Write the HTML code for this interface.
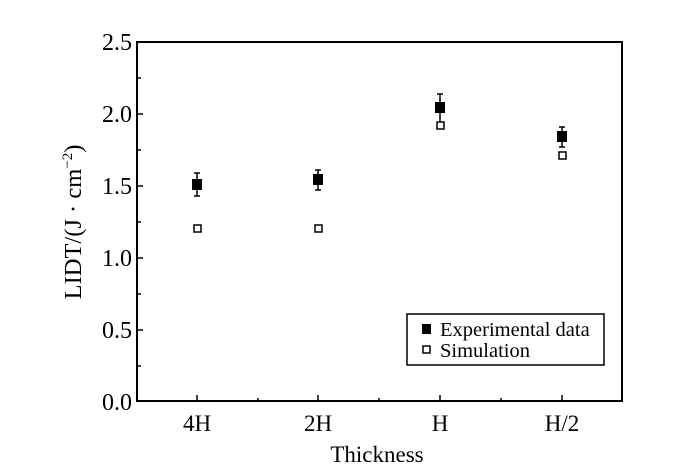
<!DOCTYPE html>
<html><head><style>body{margin:0;background:#fff}</style></head><body>
<svg width="700" height="466" xmlns="http://www.w3.org/2000/svg" font-family="Liberation Serif, serif" fill="#000">
<rect x="137" y="42" width="485" height="359" fill="none" stroke="#000" stroke-width="2"/>
<g stroke="#000" stroke-width="1.5">
<line x1="137" y1="42" x2="143" y2="42"/><line x1="137" y1="78" x2="141" y2="78"/>
<line x1="137" y1="114" x2="143" y2="114"/><line x1="137" y1="150" x2="141" y2="150"/>
<line x1="137" y1="186" x2="143" y2="186"/><line x1="137" y1="222" x2="141" y2="222"/>
<line x1="137" y1="258" x2="143" y2="258"/><line x1="137" y1="294" x2="141" y2="294"/>
<line x1="137" y1="330" x2="143" y2="330"/><line x1="137" y1="366" x2="141" y2="366"/>
<line x1="197" y1="401" x2="197" y2="395"/><line x1="318" y1="401" x2="318" y2="395"/>
<line x1="440" y1="401" x2="440" y2="395"/><line x1="562" y1="401" x2="562" y2="395"/>
<line x1="258" y1="401" x2="258" y2="398"/><line x1="379" y1="401" x2="379" y2="398"/><line x1="501" y1="401" x2="501" y2="398"/>
</g>
<g font-size="24" text-anchor="end">
<text x="132" y="50">2.5</text><text x="132" y="122">2.0</text><text x="132" y="194">1.5</text>
<text x="132" y="266">1.0</text><text x="132" y="338">0.5</text><text x="132" y="410">0.0</text>
</g>
<g font-size="23" text-anchor="middle">
<text x="197" y="431">4H</text><text x="318" y="431">2H</text><text x="440" y="431">H</text><text x="562" y="431">H/2</text>
<text x="377" y="462">Thickness</text>
<text transform="translate(81,222) rotate(-90)" font-size="24.5">LIDT/(J · cm<tspan dy="-9" font-size="15">−2</tspan><tspan dy="9">)</tspan></text>
</g>
<g stroke="#000" stroke-width="1.5">
<line x1="197" y1="173" x2="197" y2="196"/><line x1="194" y1="173" x2="200" y2="173"/><line x1="194" y1="196" x2="200" y2="196"/>
<line x1="318" y1="170" x2="318" y2="190"/><line x1="315" y1="170" x2="321" y2="170"/><line x1="315" y1="190" x2="321" y2="190"/>
<line x1="440" y1="94" x2="440" y2="124"/><line x1="437" y1="94" x2="443" y2="94"/>
<line x1="562" y1="127" x2="562" y2="147"/><line x1="559" y1="127" x2="565" y2="127"/><line x1="559" y1="147" x2="565" y2="147"/>
</g>
<rect x="192" y="179" width="10" height="11"/><rect x="313" y="174" width="10" height="11"/>
<rect x="435" y="102" width="10" height="11"/><rect x="557" y="131" width="10" height="11"/>
<g fill="#fff" stroke="#000" stroke-width="1.5">
<rect x="194" y="225" width="7" height="7"/><rect x="315" y="225" width="7" height="7"/>
<rect x="437" y="122" width="7" height="7"/><rect x="559" y="152" width="7" height="7"/>
</g>
<rect x="407" y="314" width="197" height="51" fill="#fff" stroke="#000" stroke-width="1.5"/>
<rect x="422" y="324" width="9" height="10"/>
<rect x="423" y="346" width="7" height="7" fill="#fff" stroke="#000" stroke-width="1.5"/>
<g font-size="20.5"><text x="440" y="336">Experimental data</text><text x="440" y="357">Simulation</text></g>
</svg>
</body></html>
